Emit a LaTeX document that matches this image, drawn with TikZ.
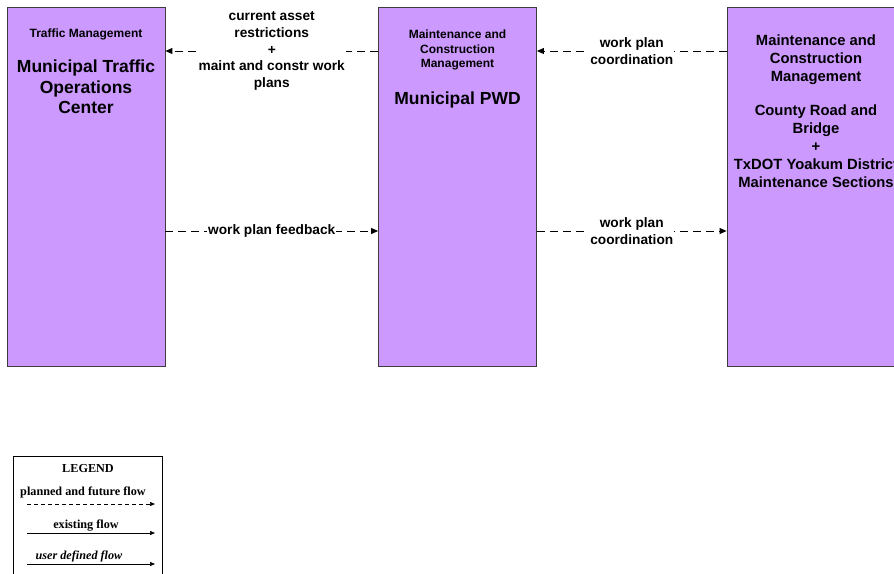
\documentclass[tikz,border=0pt]{standalone}
\usepackage{fontspec}
\setmainfont{Liberation Sans}
\newfontfamily\legendfont{Liberation Serif}
\usepackage{tikz}
\usetikzlibrary{arrows.meta, positioning}
\definecolor{entpurple}{RGB}{204, 153, 255}
\definecolor{entborder}{RGB}{60, 60, 60}

\tikzset{
  entity/.style={draw=entborder, fill=entpurple, line width=0.8pt, minimum width=158pt, minimum height=359pt, inner sep=0pt},
  headtxt/.style={anchor=north, inner sep=0pt, align=center, font=\bfseries\fontsize{12}{14.5}\selectfont},
  titletxt/.style={anchor=north, inner sep=0pt, align=center, font=\bfseries\fontsize{17.5}{20.5}\selectfont},
  flow/.style={dash pattern=on 8pt off 5pt, line width=0.9pt, -{Triangle[length=7pt, width=6pt]}},
  flowlbl/.style={fill=white, inner sep=1pt, align=center, font=\bfseries\fontsize{13.7}{16.7}\selectfont},
  legtxt/.style={anchor=base, inner sep=0pt, font=\legendfont\bfseries\fontsize{12.2}{14}\selectfont},
  legflow/.style={line width=0.6pt, -{Triangle[length=5pt, width=4pt]}}
}

\begin{document}
\begin{tikzpicture}[x=1pt, y=-1pt]
  \clip (0,0) rectangle (894,573);
  \fill[white] (0,0) rectangle (894,573);

  % entities
  \node[entity] (tmc) at (86,186.5) {};
  \node[entity] (pwd) at (457.5,186.5) {};
  \node[entity, minimum width=178pt] (county) at (816,186.5) {};

  \node[headtxt] (tmchead) at (86,29) {Traffic Management};
  \node[titletxt] (tmcname) at (86,60) {Municipal Traffic\\Operations\\Center};
  \node[headtxt] (pwdhead) at (457.5,30) {Maintenance and\\Construction\\Management};
  \node[titletxt] (pwdname) at (457.5,92) {Municipal PWD};
  \node[headtxt, font=\bfseries\fontsize{14.8}{18}\selectfont] (countyhead) at (816,35) {Maintenance and\\Construction\\Management};
  \node[headtxt, font=\bfseries\fontsize{14.8}{18}\selectfont] (countyname) at (816,105) {County Road and\\Bridge\\+\\TxDOT Yoakum District\\Maintenance Sections};

  % flows
  \coordinate (rowA) at (0,51);
  \coordinate (rowB) at (0,231);
  \draw[flow] (pwd.west |- rowA) -- node[flowlbl] (restr) {current asset\\restrictions\\+\\maint and constr work\\plans} (tmc.east |- rowA);
  \draw[flow] (county.west |- rowA) -- node[flowlbl] (coordA) {work plan\\coordination} (pwd.east |- rowA);
  \draw[flow] (tmc.east |- rowB) -- node[flowlbl] (feedback) {work plan feedback} (pwd.west |- rowB);
  \draw[flow] (pwd.east |- rowB) -- node[flowlbl] (coordB) {work plan\\coordination} (county.west |- rowB);

  % legend
  \node[draw, line width=0.8pt, minimum width=149pt, minimum height=140pt, anchor=north west] (legend) at (13,456) {};
  \node[legtxt] (legtitle) at (88,472) {LEGEND};
  \node[legtxt] (legplanned) at (83,495) {planned and future flow};
  \node[legtxt] (legexist) at (86,528) {existing flow};
  \node[legtxt, font=\legendfont\bfseries\itshape\fontsize{12.2}{14}\selectfont] (leguser) at (79,559) {user defined flow};
  \coordinate (pA) at (27,504);
  \coordinate (pB) at (155,504);
  \coordinate (eA) at (27,533);
  \coordinate (eB) at (155,533);
  \coordinate (uA) at (27,564);
  \coordinate (uB) at (155,564);
  \draw[legflow, dash pattern=on 4pt off 3pt] (pA) -- (pB);
  \draw[legflow] (eA) -- (eB);
  \draw[legflow] (uA) -- (uB);
\end{tikzpicture}
\end{document}
